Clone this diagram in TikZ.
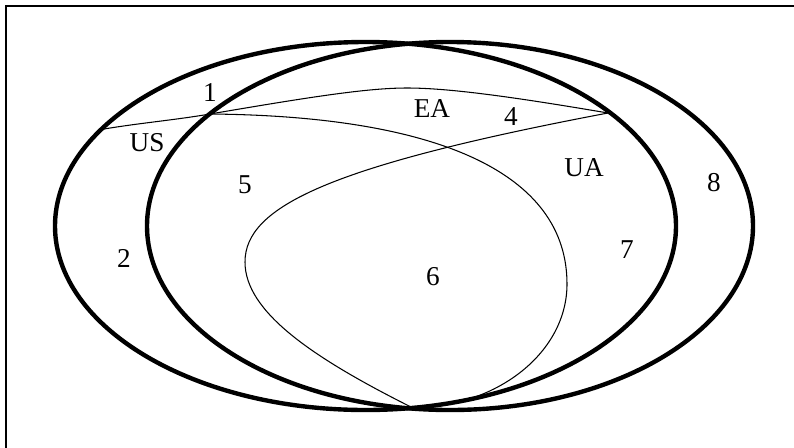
\documentclass[tikz,border=0pt]{standalone}
\usepackage{fontspec}
\setmainfont{Liberation Serif}
\usetikzlibrary{positioning}

\tikzset{
  setline/.style={line width=2.5pt},
  partline/.style={line width=0.6pt},
  lbl/.style={font=\fontsize{15.5}{18}\selectfont, inner sep=0pt}
}

\begin{document}
\begin{tikzpicture}[x=0.02cm,y=-0.02cm]
\useasboundingbox (0,0) rectangle (794,447);
\clip (0,0) rectangle (794,447);

% Frame
\draw[line width=0.6pt] (6,470) -- (6,6) -- (820,6);

% The two big sets
\draw[setline] (365.5,226) ellipse [x radius=310.5, y radius=184];
\draw[setline] (450,226) ellipse [x radius=303, y radius=184];

% Meeting points of the thin curves
\coordinate (us) at (104,129);
\coordinate (pl) at (210,114);
\coordinate (pr) at (608,113);
\coordinate (ea) at (407,88);
\coordinate (rt) at (567,284);
\coordinate (lt) at (245,262);
\coordinate (bot) at (413,408);

% Upper arc
\draw[partline] (us) .. controls (140,123) and (175,120) .. (pl)
  .. controls (310,97) and (367,88) .. (ea)
  .. controls (447,88) and (508,96) .. (pr);

% Curve from the left point
\draw[partline] (pl) .. controls (440,116) and (567,174) .. (rt)
  .. controls (567,352) and (498,407) .. (bot);

% Curve from the right point
\draw[partline] (pr) .. controls (328,166) and (245,207) .. (lt)
  .. controls (245,312) and (313,358) .. (bot);

% Labels
\node[lbl] (n1) at (210,93) {1};
\node[lbl] (nus) at (147,143) {US};
\node[lbl] (nea) at (432,109) {EA};
\node[lbl] (n4) at (511,117) {4};
\node[lbl] (nua) at (584,168) {UA};
\node[lbl] (n8) at (714,183) {8};
\node[lbl] (n5) at (245,185) {5};
\node[lbl] (n2) at (124,258) {2};
\node[lbl] (n6) at (433,277) {6};
\node[lbl] (n7) at (627,250) {7};
\end{tikzpicture}
\end{document}
